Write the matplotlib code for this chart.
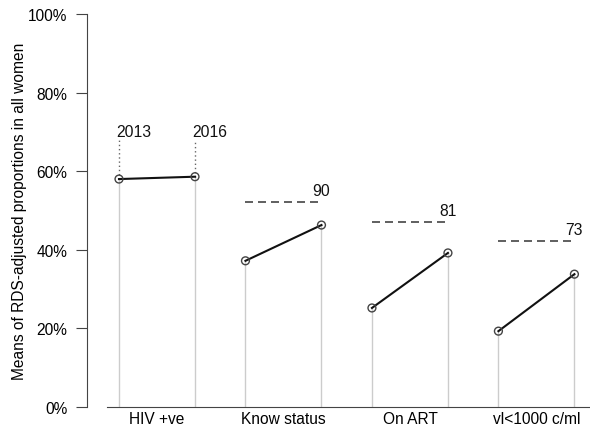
import numpy as np
import matplotlib.pyplot as plt

plt.rcParams['font.family'] = ['Liberation Sans', 'DejaVu Sans']

categories = ['HIV +ve', 'Know status', 'On ART', 'vl<1000 c/ml']
years = ['2013', '2016']
v2013 = [58.0, 37.2, 25.2, 19.3]
v2016 = [58.6, 46.3, 39.2, 33.8]
targets = [None, 90, 81, 73]
target_vals = [None, 52.2, 47.0, 42.3]

gap = 1.664
fig = plt.figure(figsize=(5.9, 4.27), dpi=100)
ax = fig.add_axes([87/590, 19/427, 503/590, 393/427])

for i, cat in enumerate(categories):
    x0 = i * gap
    x1 = x0 + 1
    ax.plot([x0, x0], [0, v2013[i]], color='#cccccc', lw=1, zorder=1)
    ax.plot([x1, x1], [0, v2016[i]], color='#cccccc', lw=1, zorder=1)
    ax.plot([x0, x1], [v2013[i], v2016[i]], color='#111111', lw=1.5, zorder=2)
    ax.scatter([x0, x1], [v2013[i], v2016[i]], s=32, facecolor='none',
               edgecolor='#444444', lw=1, zorder=3)
    if targets[i] is not None:
        ax.plot([x0, x1], [target_vals[i]] * 2, color='#444444', lw=1.2,
                dashes=(4.8, 3.0), zorder=2)
        ax.text(x1, target_vals[i] + 1, str(targets[i]), ha='center',
                va='bottom', fontsize=11.3, color='#111111')

# year labels on first group
for x, y, lab in [(0, v2013[0], years[0]), (1, v2016[0], years[1])]:
    ax.plot([x, x], [y, 68], color='#666666', lw=1, ls=(0, (1, 2)), zorder=1)
    ax.text(x - 0.04, 68.3, lab, ha='left', va='bottom', fontsize=11.3,
            color='#111111')

ax.set_xlim(-0.421, 6.197)
ax.set_ylim(0, 100)
ax.set_xticks([i * gap + 0.5 for i in range(4)])
ax.set_xticklabels(categories, fontsize=11.2)
ax.tick_params(axis='x', length=0, pad=3)
ax.set_yticks([0, 20, 40, 60, 80, 100])
ax.set_yticklabels(['0%', '20%', '40%', '60%', '80%', '100%'], fontsize=11.2)
ax.tick_params(axis='y', length=8, color='#444444', pad=6)
ax.set_ylabel('Means of RDS-adjusted proportions in all women', fontsize=11.2, labelpad=1)

ax.spines['top'].set_visible(False)
ax.spines['right'].set_visible(False)
ax.spines['left'].set_color('#444444')
ax.spines['bottom'].set_color('#444444')
ax.spines['bottom'].set_bounds(-0.158, 6.197)

fig.savefig('out.png', dpi=100)
